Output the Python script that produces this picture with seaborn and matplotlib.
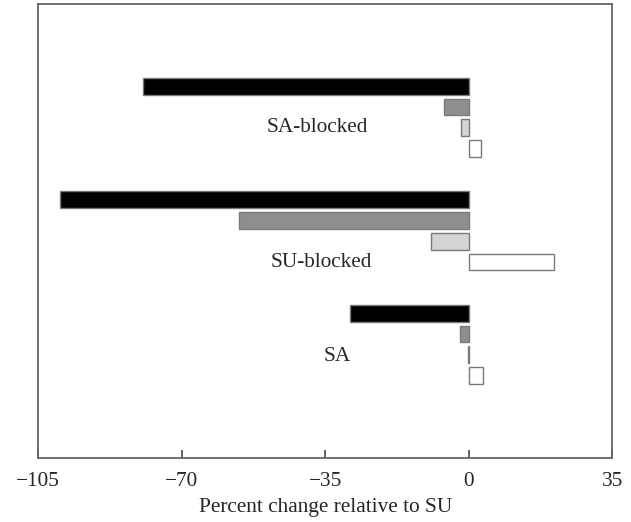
import matplotlib
matplotlib.use("Agg")
import matplotlib.pyplot as plt
import seaborn as sns
import pandas as pd

# Data
conditions = ["SA-blocked", "SU-blocked", "SA"]
series = ["Series 1", "Series 2", "Series 3", "Series 4"]
series1 = [-79.5, -99.6, -28.9]
series2 = [-6.0, -56.0, -2.2]
series3 = [-1.8, -9.1, -0.2]
series4 = [3.0, 20.7, 3.5]
x_ticks = [-105, -70, -35, 0, 35]
x_label = "Percent change relative to SU"

colors = ["#000000", "#8e8e8e", "#d4d4d4", "#ffffff"]

rows = []
for s, vals in zip(series, [series1, series2, series3, series4]):
    for c, v in zip(conditions, vals):
        rows.append({"condition": c, "series": s, "value": v})
df = pd.DataFrame(rows)

sns.set_style("white")
plt.rcParams["font.family"] = ["Liberation Serif", "DejaVu Serif"]

fig = plt.figure(figsize=(6.31, 5.22), dpi=100)
ax = fig.add_axes([38 / 631, 1 - 457.7 / 522, (612.3 - 38) / 631, (457.7 - 4) / 522])

sns.barplot(data=df, x="value", y="condition", hue="series",
            order=conditions, hue_order=series, palette=colors,
            orient="h", width=0.73, gap=0.19, errorbar=None,
            edgecolor="#7a7a7a", linewidth=1.0, legend=False, ax=ax)

ax.set_xlim(-105, 35)
ax.set_ylim(3.0, -1.0)
ax.set_xticks(x_ticks)
ax.set_xticklabels(["\u2212105", "\u221270", "\u221235", "0", "35"])
ax.set_yticks([])
ax.set_ylabel("")
ax.set_xlabel(x_label, fontsize=15.3, labelpad=5)
ax.tick_params(axis="x", direction="in", length=6, width=1.3, color="#555555",
               labelsize=15.3, pad=10, bottom=True)

for sp in ax.spines.values():
    sp.set_visible(True)
    sp.set_color("#666666")
    sp.set_linewidth(1.3)

# Group labels
label_pos = [(-37, 0.09), (-36, 1.28), (-32, 2.11)]
for name, (lx, ly) in zip(conditions, label_pos):
    ax.text(lx, ly, name, ha="center", va="center", fontsize=15.3)

fig.savefig("out.png", dpi=100)
